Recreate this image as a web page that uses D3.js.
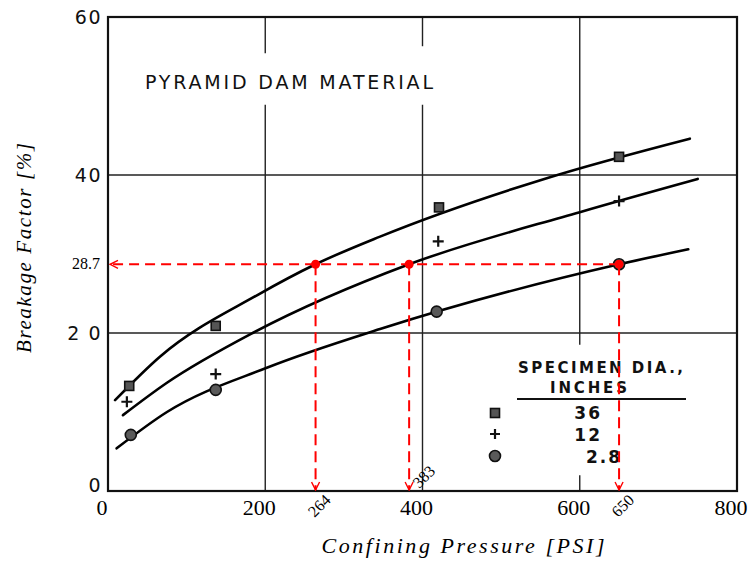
<!DOCTYPE html>
<html>
<head>
<meta charset="utf-8">
<script src="https://cdn.jsdelivr.net/npm/d3@7"></script>
<style>
  body { margin: 0; background: #fff; }
  svg { display: block; }
</style>
</head>
<body>
<div id="chart"></div>
<script>
// data
const xTicks = [0, 200, 400, 600, 800];
const yTicks = [0, 20, 40, 60];
const yTickLabels = ["0", "2 0", "40", "60"];

// grid gaps (scan has breaks around title and legend)
const vGridX = [200, 400, 600];
const vGapLo = [48.9, 48.9, 2.0];
const vGapHi = [55.4, 56.3, 18.5];

// fitted curves
const curve36X = [9, 66, 190, 264, 346, 558, 740];
const curve36Y = [11.5, 17.0, 24.8, 28.7, 32.2, 39.6, 44.6];
const curve12X = [19, 75, 184, 383, 600, 750];
const curve12Y = [9.6, 13.7, 20.0, 28.7, 35.3, 39.5];
const curve28X = [11, 75, 202, 346, 650, 738];
const curve28Y = [5.4, 10.0, 15.6, 20.5, 28.7, 30.6];

// measured points
const pts36X = [27, 137, 421, 650];
const pts36Y = [13.3, 20.9, 35.9, 42.3];
const pts12X = [24, 137, 420, 650];
const pts12Y = [11.3, 14.8, 31.6, 36.7];
const pts28X = [29, 137, 418, 650];
const pts28Y = [7.1, 12.8, 22.7, 28.7];

// red read-off annotation
const readX = [264, 383, 650];
const readY = 28.7;

const legendLabels = ["36", "12", "2.8"];

const SERIF = "'Liberation Serif', 'Times New Roman', serif";
const SANS = "'DejaVu Sans', sans-serif";

const W = 749, H = 561;
const svg = d3.select("#chart").append("svg")
  .attr("width", W).attr("height", H);

const x = d3.scaleLinear().domain([0, 800]).range([108, 737]);
const y = d3.scaleLinear().domain([0, 60]).range([491, 17]);

const defs = svg.append("defs");
defs.append("marker")
  .attr("id", "arr")
  .attr("markerUnits", "userSpaceOnUse")
  .attr("viewBox", "0 0 10 10")
  .attr("refX", 9).attr("refY", 5)
  .attr("markerWidth", 10).attr("markerHeight", 10)
  .attr("orient", "auto")
  .append("path")
  .attr("d", "M1,1 L9,5 L1,9")
  .attr("fill", "none")
  .attr("stroke", "red")
  .attr("stroke-width", 1.4);

// grid
const grid = svg.append("g").attr("stroke", "#222").attr("stroke-width", 1.4);
vGridX.forEach((v, i) => {
  grid.append("line")
    .attr("x1", x(v)).attr("x2", x(v))
    .attr("y1", y(0)).attr("y2", y(vGapLo[i]));
  grid.append("line")
    .attr("x1", x(v)).attr("x2", x(v))
    .attr("y1", y(vGapHi[i])).attr("y2", y(60));
});
[20, 40].forEach(v => {
  grid.append("line")
    .attr("x1", x(0)).attr("x2", x(800))
    .attr("y1", y(v)).attr("y2", y(v));
});

// frame
svg.append("rect")
  .attr("x", x(0)).attr("y", y(60))
  .attr("width", x(800) - x(0)).attr("height", y(0) - y(60))
  .attr("fill", "none").attr("stroke", "#111").attr("stroke-width", 2.2);

// y tick labels (lettering style)
svg.append("g").selectAll("text")
  .data(yTicks)
  .join("text")
  .style("font-family", SANS)
  .attr("x", 102)
  .attr("y", d => d === 0 ? y(d) + 1 : y(d) + 7)
  .attr("text-anchor", "end")
  .attr("font-size", 19)
  .attr("letter-spacing", 1.5)
  .attr("fill", "#111")
  .text((d, i) => yTickLabels[i]);

// x tick labels
svg.append("g").selectAll("text")
  .data(xTicks)
  .join("text")
  .style("font-family", SERIF)
  .attr("x", d => x(d) - 6)
  .attr("y", 515)
  .attr("text-anchor", "middle")
  .attr("font-size", 22)
  .text(d => d);

// title
svg.append("text")
  .style("font-family", SANS)
  .attr("x", 145).attr("y", 89)
  .attr("font-size", 19)
  .attr("textLength", 288)
  .attr("lengthAdjust", "spacing")
  .attr("fill", "#111")
  .text("PYRAMID DAM MATERIAL");

// curves
const line = d3.line()
  .x(d => x(d[0])).y(d => y(d[1]))
  .curve(d3.curveMonotoneX);
const curves = [
  d3.zip(curve36X, curve36Y),
  d3.zip(curve12X, curve12Y),
  d3.zip(curve28X, curve28Y)
];
svg.append("g").selectAll("path")
  .data(curves)
  .join("path")
  .attr("d", line)
  .attr("fill", "none")
  .attr("stroke", "#000")
  .attr("stroke-width", 2.6)
  .attr("stroke-linecap", "round");

// markers
function square(g, cx, cy, s) {
  g.append("rect")
    .attr("x", cx - s / 2).attr("y", cy - s / 2)
    .attr("width", s).attr("height", s)
    .attr("fill", "#555").attr("stroke", "#111").attr("stroke-width", 1.6);
}
function plus(g, cx, cy, s) {
  g.append("path")
    .attr("d", `M${cx - s / 2},${cy}H${cx + s / 2}M${cx},${cy - s / 2}V${cy + s / 2}`)
    .attr("stroke", "#111").attr("stroke-width", 2.2);
}
function dot(g, cx, cy, r) {
  g.append("circle")
    .attr("cx", cx).attr("cy", cy).attr("r", r)
    .attr("fill", "#5a5a5a").attr("stroke", "#111").attr("stroke-width", 1.6);
}
const mk = svg.append("g");
pts36X.forEach((v, i) => square(mk, x(v), y(pts36Y[i]), 9));
pts12X.forEach((v, i) => plus(mk, x(v), y(pts12Y[i]), 11));
pts28X.forEach((v, i) => dot(mk, x(v), y(pts28Y[i]), 5.5));

// legend
const lg = svg.append("g").style("font-family", SANS).attr("font-weight", "bold").attr("fill", "#111");
lg.append("text").attr("x", 518).attr("y", 373).attr("font-size", 15)
  .attr("textLength", 165).attr("lengthAdjust", "spacing").text("SPECIMEN DIA.,");
lg.append("text").attr("x", 550).attr("y", 393).attr("font-size", 15)
  .attr("textLength", 77).attr("lengthAdjust", "spacing").text("INCHES");
svg.append("line").attr("x1", 517).attr("x2", 686).attr("y1", 399).attr("y2", 399)
  .attr("stroke", "#111").attr("stroke-width", 2.2);
square(svg, 495, 413, 9);
plus(svg, 495, 434, 10);
dot(svg, 495, 456, 5.5);
const legendX = [602, 602, 622];
const legendY = [419, 441, 463];
legendLabels.forEach((t, i) => {
  lg.append("text").attr("x", legendX[i]).attr("y", legendY[i])
    .attr("text-anchor", "end").attr("font-size", 17).attr("letter-spacing", 2)
    .text(t);
});

// red read-off lines
const red = svg.append("g").attr("stroke", "red").attr("stroke-width", 2).attr("fill", "none");
red.append("line")
  .attr("x1", x(650)).attr("x2", x(0) + 2)
  .attr("y1", y(readY)).attr("y2", y(readY))
  .attr("stroke-dasharray", "10,6")
  .attr("marker-end", "url(#arr)");
readX.forEach(v => {
  red.append("line")
    .attr("x1", x(v)).attr("x2", x(v))
    .attr("y1", y(readY)).attr("y2", y(0) - 1)
    .attr("stroke-dasharray", "11,6")
    .attr("marker-end", "url(#arr)");
});
svg.append("g").selectAll("circle")
  .data(readX)
  .join("circle")
  .attr("cx", d => x(d)).attr("cy", y(readY)).attr("r", 4.5)
  .attr("fill", "red");

svg.append("text")
  .style("font-family", SERIF)
  .attr("x", 100).attr("y", y(readY) + 5)
  .attr("text-anchor", "end")
  .attr("font-size", 16)
  .text(readY);

// rotated read-off labels
const rl = svg.append("g").style("font-family", SERIF).attr("font-size", 16);
[264, 650].forEach(v => {
  const px = x(v) + 16, py = y(0) + 10;
  rl.append("text")
    .attr("transform", `translate(${px},${py}) rotate(-45)`)
    .attr("text-anchor", "end")
    .text(v);
});
rl.append("text")
  .attr("transform", `translate(${x(383) + 10},${y(0) - 2}) rotate(-45)`)
  .attr("text-anchor", "start")
  .text(383);

// axis titles
svg.append("text")
  .style("font-family", SERIF)
  .attr("x", 463).attr("y", 553)
  .attr("text-anchor", "middle")
  .attr("font-style", "italic")
  .attr("font-size", 22)
  .attr("textLength", 283).attr("lengthAdjust", "spacing")
  .text("Confining Pressure [PSI]");

svg.append("text")
  .style("font-family", SERIF)
  .attr("transform", "translate(31,248) rotate(-90)")
  .attr("text-anchor", "middle")
  .attr("font-style", "italic")
  .attr("font-size", 21)
  .attr("textLength", 210).attr("lengthAdjust", "spacing")
  .text("Breakage Factor [%]");
</script>
</body>
</html>
